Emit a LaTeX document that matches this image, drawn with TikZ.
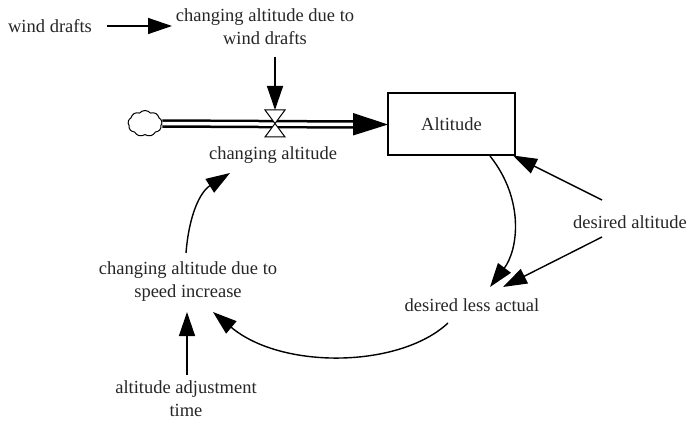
\documentclass[tikz,border=0pt]{standalone}
\usepackage{fontspec}
\setmainfont{Liberation Serif}
\usetikzlibrary{arrows.meta,shapes.symbols}
\begin{document}
\begin{tikzpicture}[x=1pt,y=-1pt,
  lbl/.style={font=\fontsize{18.5}{23}\selectfont, align=center, inner sep=0pt, text=black!85},
  link/.style={line width=1.4pt, -{Triangle[length=24pt,width=16pt]}},
  stockbox/.style={draw, line width=1.3pt, minimum width=127pt, minimum height=62pt, inner sep=0pt},
  valvepart/.style={draw, line width=1pt, fill=white},
  pipe/.style={double, line width=2.5pt, double distance=3.5pt}
]
\useasboundingbox (0,0) rectangle (689,428);

% nodes
\node[lbl] (wd) at (50,26) {wind drafts};
\node[lbl] (cwd) at (265,27) {changing altitude due to\\wind drafts};
\node[stockbox, lbl] (alt) at (451.5,124) {Altitude};
\node[cloud, cloud puffs=9, cloud puff arc=100, draw, line width=1pt, minimum width=34pt, minimum height=26pt, inner sep=0pt, aspect=1.3] (cl) at (145,123.5) {};
\coordinate (v) at (275,123.5);
\coordinate (vtop) at (275,110);
\node[lbl] (ca) at (273,155) {changing altitude};
\node[lbl] (da) at (630,222) {desired altitude};
\node[lbl] (dla) at (472,305) {desired less actual};
\node[lbl] (cs) at (188,282) {changing altitude due to\\speed increase};
\node[lbl] (aat) at (186,399) {altitude adjustment\\time};

% pipe
\draw[pipe] (cl.east) -- ([xshift=-96.5pt,yshift=-0.5pt]alt.center);
\fill ([xshift=-98.5pt,yshift=11pt]alt.center) -- ([xshift=-63.5pt,yshift=-0.5pt]alt.center) -- ([xshift=-98.5pt,yshift=-11.5pt]alt.center) -- cycle;

% link into valve (drawn before valve)
\draw[link] ([xshift=10pt,yshift=-30pt]cwd.center) -- (vtop);

% valve
\draw[valvepart] (v) -- ([xshift=-10pt]vtop) -- ([xshift=10pt]vtop) -- cycle;
\draw[valvepart] (v) -- ([xshift=-10pt,yshift=-27pt]vtop) -- ([xshift=10pt,yshift=-27pt]vtop) -- cycle;

% links
\draw[link] ([xshift=57pt]wd.center) -- ([xshift=-93pt,yshift=1pt]cwd.center);
\draw[link] ([xshift=38.5pt,yshift=-32pt]alt.center) .. controls ([xshift=73.5pt,yshift=-76pt]alt.center) and ([xshift=66.5pt,yshift=-126pt]alt.center) .. ([xshift=18pt,yshift=18pt]dla.center);
\draw[link] ([xshift=-28pt,yshift=22pt]da.center) -- ([xshift=61.5pt,yshift=-31.5pt]alt.center);
\draw[link] ([xshift=-28pt,yshift=-15pt]da.center) -- ([xshift=31pt,yshift=18pt]dla.center);
\draw[link] ([xshift=-24pt,yshift=-18pt]dla.center) .. controls (400,368) and (282,370) .. ([xshift=25pt,yshift=-30pt]cs.center);
\draw[link] ([xshift=-2pt,yshift=29pt]cs.center) .. controls (189,215) and (200,192) .. ([xshift=-43pt,yshift=-18pt]ca.center);
\draw[link] ([xshift=1pt,yshift=24pt]aat.center) -- ([xshift=-1pt,yshift=-30pt]cs.center);
\end{tikzpicture}
\end{document}
